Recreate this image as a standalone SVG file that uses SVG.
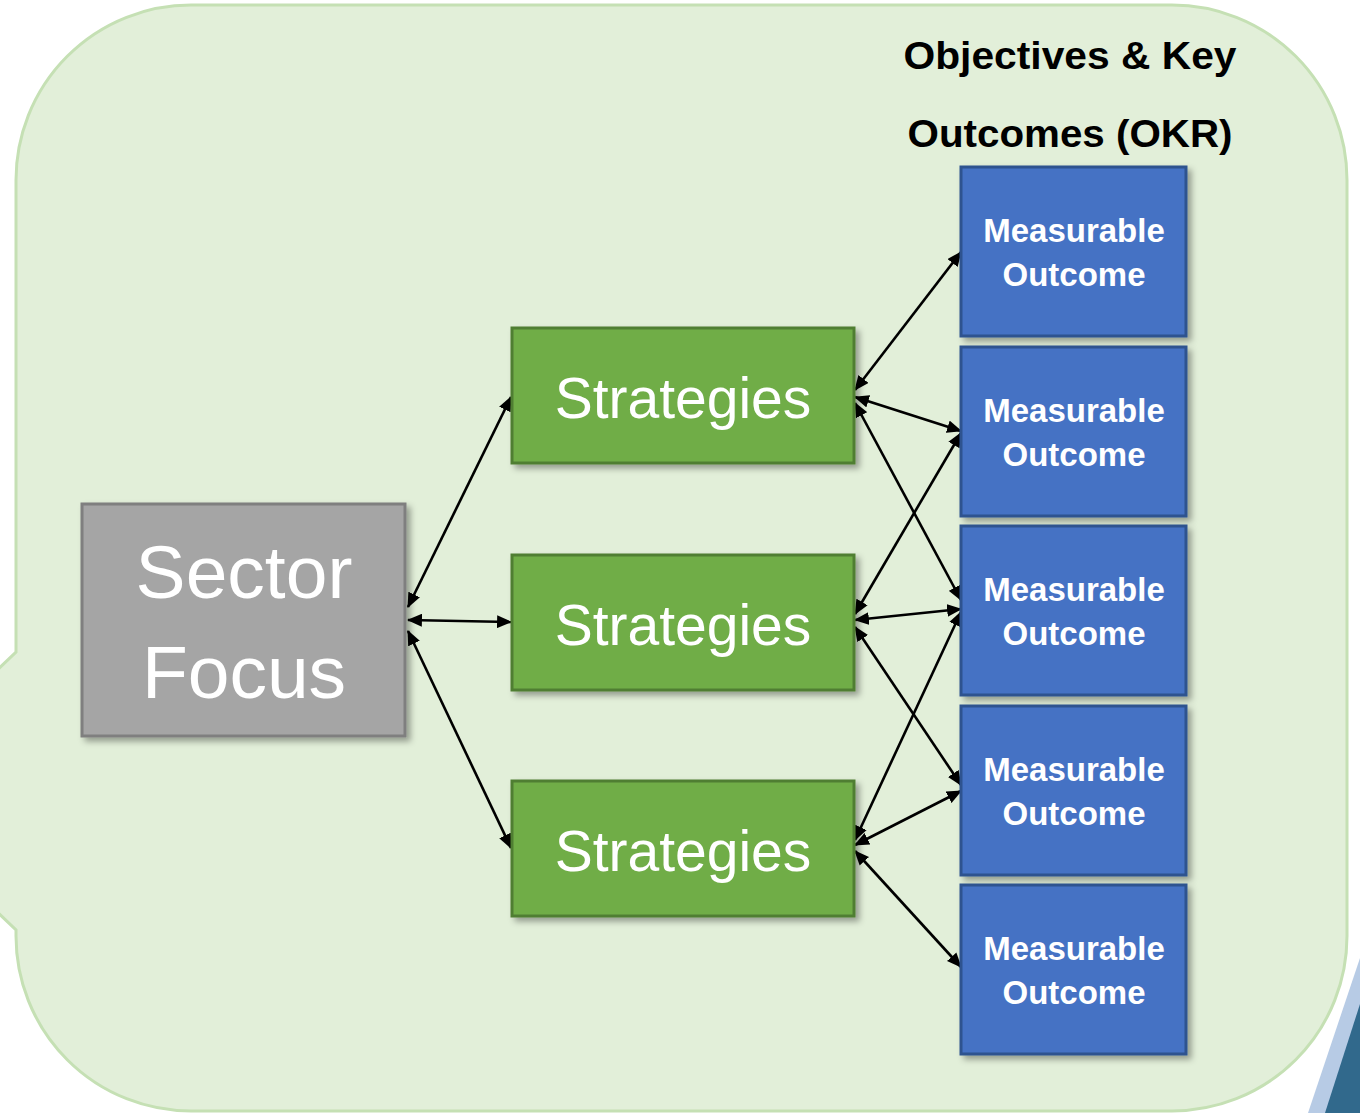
<svg xmlns="http://www.w3.org/2000/svg" width="1360" height="1113" viewBox="0 0 1360 1113">
<defs>
<style>
.bubble{fill:#e2efd9;stroke:#c5e0b4;stroke-width:3}
.sector{fill:#a5a5a5;stroke:#7f7f7f;stroke-width:3}
.strat{fill:#70ad47;stroke:#507e32;stroke-width:3}
.mo{fill:#4472c4;stroke:#2f528f;stroke-width:3}
.wt{fill:#ffffff;font-family:"Liberation Sans",Arial,sans-serif;text-anchor:middle}
.mot{font-size:33px;font-weight:bold}
.title{fill:#000000;font-family:"Liberation Sans",Arial,sans-serif;font-weight:bold;font-size:38px;text-anchor:middle}
.conn line{stroke:#000000;stroke-width:2.6;marker-start:url(#ah);marker-end:url(#ah)}
</style>
<marker id="ah" viewBox="0 0 14 12" refX="13" refY="6" markerWidth="15" markerHeight="13" markerUnits="userSpaceOnUse" orient="auto-start-reverse">
<path d="M0,0 L14,6 L0,12 Z" fill="#000000"/>
</marker>
<filter id="sh" x="-10%" y="-10%" width="130%" height="130%">
<feDropShadow dx="4" dy="4" stdDeviation="3" flood-color="#000000" flood-opacity="0.35"/>
</filter>
</defs>

<g id="background">
<path class="bubble" d="M191,5 L1172,5 A175,175 0 0 1 1347,180 L1347,936 A175,175 0 0 1 1172,1111 L191,1111 A175,175 0 0 1 16,936 L16,930 L-128,791 L16,652 L16,180 A175,175 0 0 1 191,5 Z"/>
<polygon points="1360,958 1360,1113 1308,1113" fill="#b7cbe5"/>
<polygon points="1360,1004 1360,1113 1325,1113" fill="#31698c"/>
</g>

<g id="title">
<text class="title" x="1070" y="69" textLength="333" lengthAdjust="spacingAndGlyphs">Objectives &amp; Key</text>
<text class="title" x="1070" y="147" textLength="325" lengthAdjust="spacingAndGlyphs">Outcomes (OKR)</text>
</g>

<g class="conn" id="connectors">
<line x1="408" y1="607" x2="511" y2="397"/>
<line x1="408" y1="620" x2="511" y2="622"/>
<line x1="408" y1="631" x2="511" y2="848"/>
<line x1="855" y1="390" x2="961" y2="252"/>
<line x1="855" y1="397" x2="961" y2="431"/>
<line x1="855" y1="403" x2="961" y2="600"/>
<line x1="855" y1="614" x2="961" y2="433"/>
<line x1="855" y1="620" x2="961" y2="609"/>
<line x1="855" y1="627" x2="961" y2="785"/>
<line x1="855" y1="840" x2="961" y2="612"/>
<line x1="855" y1="845" x2="961" y2="791"/>
<line x1="855" y1="851" x2="961" y2="967"/>
</g>

<g id="sector-focus">
<rect class="sector" x="82" y="504" width="323" height="232" filter="url(#sh)"/>
<text class="wt" x="244" y="598" font-size="75">Sector</text>
<text class="wt" x="244" y="698" font-size="75">Focus</text>
</g>

<g id="strategies-1">
<rect class="strat" x="512" y="328" width="342" height="135" filter="url(#sh)"/>
<text class="wt" x="683" y="418" font-size="57">Strategies</text>
</g>
<g id="strategies-2">
<rect class="strat" x="512" y="555" width="342" height="135" filter="url(#sh)"/>
<text class="wt" x="683" y="645" font-size="57">Strategies</text>
</g>
<g id="strategies-3">
<rect class="strat" x="512" y="781" width="342" height="135" filter="url(#sh)"/>
<text class="wt" x="683" y="871" font-size="57">Strategies</text>
</g>

<g id="outcome-1">
<rect class="mo" x="961" y="167" width="225" height="169" filter="url(#sh)"/>
<text class="wt mot" x="1074" y="242">Measurable</text>
<text class="wt mot" x="1074" y="286">Outcome</text>
</g>
<g id="outcome-2">
<rect class="mo" x="961" y="347" width="225" height="169" filter="url(#sh)"/>
<text class="wt mot" x="1074" y="422">Measurable</text>
<text class="wt mot" x="1074" y="466">Outcome</text>
</g>
<g id="outcome-3">
<rect class="mo" x="961" y="526" width="225" height="169" filter="url(#sh)"/>
<text class="wt mot" x="1074" y="601">Measurable</text>
<text class="wt mot" x="1074" y="645">Outcome</text>
</g>
<g id="outcome-4">
<rect class="mo" x="961" y="706" width="225" height="169" filter="url(#sh)"/>
<text class="wt mot" x="1074" y="781">Measurable</text>
<text class="wt mot" x="1074" y="825">Outcome</text>
</g>
<g id="outcome-5">
<rect class="mo" x="961" y="885" width="225" height="169" filter="url(#sh)"/>
<text class="wt mot" x="1074" y="960">Measurable</text>
<text class="wt mot" x="1074" y="1004">Outcome</text>
</g>
</svg>
